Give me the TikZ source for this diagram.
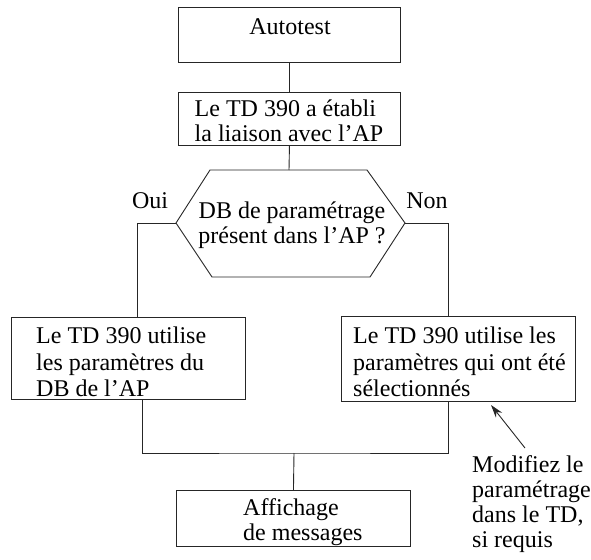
\documentclass[tikz,border=0pt]{standalone}
\usepackage{fontspec}
\setmainfont{Liberation Serif}
\usetikzlibrary{arrows.meta}
\begin{document}
\begin{tikzpicture}[x=1pt,y=-1pt,
  box/.style={draw=black!85, line width=0.9pt, inner sep=0pt, anchor=north west},
  txt/.style={font=\fontsize{24}{25}\selectfont, inner sep=0pt, align=left},
  wide/.style={font=\fontsize{24}{26.5}\selectfont},
  link/.style={draw=black!85, line width=0.9pt}]
\useasboundingbox (0,0) rectangle (591,559);

% start-up boxes
\node[box, minimum width=222pt, minimum height=55pt] (auto) at (178,7) {};
\node[txt] (autoT) at (290,27) {Autotest};
\node[box, minimum width=222pt, minimum height=53pt] (liaison) at (178,92) {};
\node[txt] (liaisonT) at (289,121) {Le TD 390 a établi\\la liaison avec l’AP};

% decision hexagon
\coordinate (hT) at (289,170);
\coordinate (hL) at (176,223);
\coordinate (hR) at (405,223);
\draw[link] (210,170) -- (367,170) -- (hR) -- (370,277) -- (212,277) -- (hL) -- cycle;
\node[txt, align=center] (q) at (292,225) {DB de paramétrage\\présent dans l’AP ?};
\node[txt] (oui) at (150,201) {Oui};
\node[txt] (non) at (427,201) {Non};

% the two branches
\node[box, minimum width=234pt, minimum height=82pt] (lbox) at (11,317) {};
\node[txt, wide, anchor=west] (lboxT) at (36,362) {Le TD 390 utilise\\les paramètres du\\DB de l’AP};
\node[box, minimum width=234pt, minimum height=85pt] (rbox) at (341,316) {};
\node[txt, wide, anchor=west] (rboxT) at (353,362) {Le TD 390 utilise les\\paramètres qui ont été\\sélectionnés};

% message box
\node[box, minimum width=234pt, minimum height=56pt] (msg) at (176,490) {};
\node[txt, anchor=west] (msgT) at (243,522) {Affichage\\de messages};

% note
\node[txt, anchor=west] (note) at (472,504) {Modifiez le\\paramétrage\\dans le TD,\\si requis};
\coordinate (arrTail) at (525,448);
\coordinate (arrTip) at (491,405);

% connectors
\coordinate (j) at (294,453);
\draw[link] (auto.south) -- (liaison.north);
\draw[link] (liaison.south) -- (hT);
\draw[link] (hL) -| ([xshift=9pt]lbox.north);
\draw[link] (hR) -| ([xshift=-10pt]rbox.north);
\draw[link] ([xshift=14pt]lbox.south) |- (j) -| ([xshift=-10pt]rbox.south);
\draw[link] (j) -- (msg.north);
\draw[link, -{Stealth[length=13pt,width=8pt]}] (arrTail) -- (arrTip);
\end{tikzpicture}
\end{document}
